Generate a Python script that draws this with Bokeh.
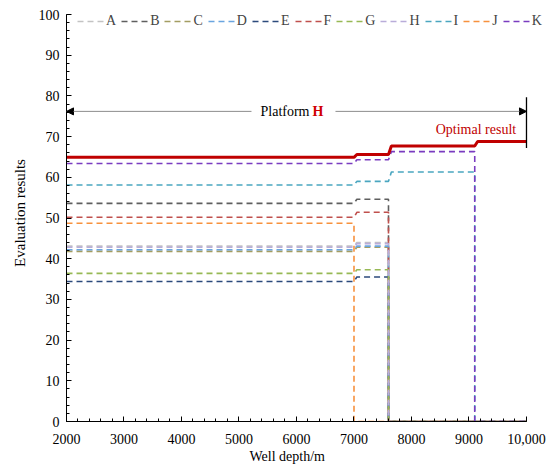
from bokeh.plotting import figure
from bokeh.embed import file_html
from bokeh.resources import INLINE
from bokeh.models import SingleIntervalTicker, Arrow, NormalHead, Legend, LegendItem, Title
from bokeh.core.properties import value

# ---- data ----
names = ["A", "B", "C", "D", "E", "F", "G", "H", "I", "J", "K"]
colors = ["#c3c3c3", "#5f5f5f", "#a39d62", "#6aa5e0", "#2c4a7c", "#c0504d",
          "#97b955", "#b9acd9", "#4aa6c0", "#f7913d", "#7a3cc0"]
# evaluation levels for segments: [2000-7000], [7050-7600], [7650-9100]
level1 = [43.1, 53.6, 41.8, 42.2, 34.4, 50.2, 36.4, 42.8, 58.1, 48.7, 63.4]
level2 = [44.0, 54.6, 42.8, 43.1, 35.5, 51.4, 37.3, 43.7, 59.0, None, 64.3]
level3 = [None, None, None, None, None, None, None, None, 61.3, None, 66.3]
drop_depth = [7600, 7600, 7600, 7600, 7600, 7600, 7600, 7600, 9100, 7000, 9100]

opt_depth = [2000, 7000, 7050, 7600, 7650, 9100, 9150, 10000]
opt_value = [64.9, 64.9, 65.6, 65.6, 67.7, 67.7, 68.8, 68.8]

x_ticks_major = 1000
y_ticks_major = 10

def build(l1, l2, l3, drop):
    xs = [2000, 7000]
    ys = [l1, l1]
    if drop == 7000:
        xs += [7000, 10000]; ys += [0, 0]
        return xs, ys
    xs += [7050, 7600]; ys += [l2, l2]
    if drop == 7600:
        xs += [7600, 10000]; ys += [0, 0]
        return xs, ys
    xs += [7650, 9100, 9100, 10000]; ys += [l3, l3, 0, 0]
    return xs, ys

FONT = "Liberation Serif"

# frame is a bit larger than the axes (axes bounded) so the legend is not clipped
p = figure(width=548, height=467, x_range=(2000, 10348), y_range=(0, 102.46),
           output_backend="svg", toolbar_location=None,
           min_border_left=66, min_border_right=2, min_border_top=4, min_border_bottom=46)
p.outline_line_color = None
p.xgrid.visible = False
p.ygrid.visible = False
p.background_fill_color = "white"

items = []
for i, n in enumerate(names):
    xs, ys = build(level1[i], level2[i], level3[i], drop_depth[i])
    r = p.line(xs, ys, line_color=colors[i], line_width=1.6, line_dash="6 4")
    items.append(LegendItem(label=n, renderers=[r]))

p.line(opt_depth, opt_value, line_color="#c00000", line_width=3)

# annotations
arrow_y = 76.2
p.add_layout(Arrow(end=NormalHead(size=7, fill_color="black", line_color="black"),
                   x_start=5217, y_start=arrow_y, x_end=2000, y_end=arrow_y,
                   line_color="#8c8c8c", line_width=1))
p.add_layout(Arrow(end=NormalHead(size=7, fill_color="black", line_color="black"),
                   x_start=6678, y_start=arrow_y, x_end=10000, y_end=arrow_y,
                   line_color="#8c8c8c", line_width=1))
p.segment(x0=[10000], y0=[67.2], x1=[10000], y1=[79.7], line_color="black", line_width=1.3)
p.text(x=[6226], y=[arrow_y], text=["Platform"], text_align="right", text_baseline="middle",
       text_font=value(FONT), text_font_size="14px", text_color="black")
p.text(x=[6278], y=[arrow_y], text=["H"], text_align="left", text_baseline="middle",
       text_font=value(FONT), text_font_size="14px", text_font_style="bold", text_color="#d00000")
p.text(x=[9821], y=[71.7], text=["Optimal result"], text_align="right", text_baseline="middle",
       text_font=value(FONT), text_font_size="14px", text_color="#c00000")

legend = Legend(items=items, orientation="horizontal", location=(11, 391),
                padding=0, margin=0, spacing=5, glyph_width=27, glyph_height=18,
                label_height=18, label_width=0, label_standoff=2, border_line_color=None,
                background_fill_alpha=0, label_text_font=FONT, label_text_font_size="14px")
p.add_layout(legend, "center")

for ax in (p.xaxis[0], p.yaxis[0]):
    ax.axis_line_color = "black"
    ax.major_tick_line_color = "black"
    ax.minor_tick_line_color = "black"
    ax.major_tick_in = 5
    ax.major_tick_out = 0
    ax.minor_tick_in = 3
    ax.minor_tick_out = 0
    ax.major_label_text_font = FONT
    ax.major_label_text_font_size = "14px"
    ax.major_label_text_color = "black"
    ax.axis_label_text_font = FONT
    ax.axis_label_text_font_size = "15px"
    ax.axis_label_text_font_style = "normal"
    ax.axis_label_text_color = "black"

p.xaxis[0].bounds = (2000, 10000)
p.yaxis[0].bounds = (0, 100)
p.xaxis[0].ticker = SingleIntervalTicker(interval=x_ticks_major, num_minor_ticks=5)
p.yaxis[0].ticker = SingleIntervalTicker(interval=y_ticks_major, num_minor_ticks=5)
p.xaxis[0].major_label_overrides = {10000: "10,000"}
p.yaxis[0].axis_label = "Evaluation results"
p.xaxis[0].major_label_standoff = 12
p.yaxis[0].major_label_standoff = 7
p.yaxis[0].axis_label_standoff = 8

# x-axis title, centred under the bounded axis (2000-10000)
p.add_layout(Title(text="Well depth/m", align="left", offset=183, standoff=0,
                   text_font=FONT, text_font_size="14px", text_font_style="normal",
                   text_color="black"), "below")

open("out.html", "w").write(file_html(p, INLINE))
